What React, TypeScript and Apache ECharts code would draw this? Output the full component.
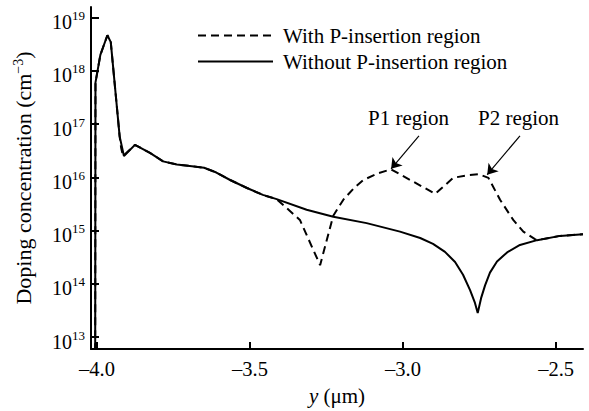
import React, { useEffect, useRef } from "react";
import * as echarts from "echarts";

// Without P-insertion region (solid): y in µm, log10 of doping concentration (cm^-3)
const solidX = [-4.006, -4.005, -3.989, -3.966, -3.955, -3.926, -3.912, -3.876, -3.827, -3.784, -3.739, -3.690, -3.650, -3.610, -3.565, -3.510, -3.458, -3.413, -3.315, -3.228, -3.119, -3.010, -2.944, -2.902, -2.863, -2.830, -2.804, -2.781, -2.765, -2.756, -2.745, -2.732, -2.716, -2.693, -2.660, -2.618, -2.562, -2.487, -2.412];
const solidLog = [12.0, 17.78, 18.30, 18.67, 18.54, 16.77, 16.40, 16.61, 16.46, 16.30, 16.24, 16.21, 16.18, 16.09, 15.95, 15.80, 15.67, 15.59, 15.39, 15.26, 15.14, 14.98, 14.86, 14.75, 14.60, 14.41, 14.17, 13.88, 13.64, 13.45, 13.73, 13.97, 14.21, 14.42, 14.59, 14.73, 14.82, 14.90, 14.93];

// With P-insertion region (dashed)
const dashX = [-4.006, -4.005, -3.989, -3.966, -3.955, -3.926, -3.921, -3.915, -3.876, -3.827, -3.784, -3.739, -3.690, -3.650, -3.610, -3.565, -3.510, -3.458, -3.413, -3.337, -3.271, -3.228, -3.195, -3.160, -3.130, -3.080, -3.039, -2.895, -2.836, -2.790, -2.752, -2.721, -2.683, -2.640, -2.607, -2.569, -2.562, -2.487, -2.412];
const dashLog = [12.0, 17.78, 18.30, 18.67, 18.54, 16.77, 16.55, 16.40, 16.61, 16.46, 16.30, 16.24, 16.21, 16.18, 16.09, 15.95, 15.80, 15.67, 15.59, 15.20, 14.35, 15.28, 15.58, 15.80, 15.95, 16.08, 16.15, 15.69, 15.99, 16.04, 16.06, 15.99, 15.58, 15.20, 14.98, 14.84, 14.82, 14.90, 14.93];

const xTicks = [-4.0, -3.5, -3.0, -2.5];
const yTicks = [13, 14, 15, 16, 17, 18, 19];
const seriesNames = ["With P-insertion region", "Without P-insertion region"];
const annotLabels = ["P1 region", "P2 region"];
const arrowFrom = [[-2.948, 16.78], [-2.618, 16.78]];
const arrowTo = [[-3.039, 16.16], [-2.725, 16.05]];

const font = "'Liberation Serif', 'Times New Roman', serif";

export default function App() {
  const ref = useRef<HTMLDivElement>(null);
  useEffect(() => {
    document.body.style.margin = "0";
    const chart = echarts.init(ref.current!, null, { renderer: "svg" });
    const solidData = solidX.map((x, i) => [x, solidLog[i]]);
    const dashData = dashX.map((x, i) => [x, dashLog[i]]);
    chart.setOption({
      animation: false,
      textStyle: { fontFamily: font, color: "#000" },
      grid: { left: 91, top: 7, right: 6, bottom: 62 },
      legend: {
        orient: "vertical",
        left: 197,
        top: 25,
        padding: 0,
        itemWidth: 75,
        itemHeight: 14,
        itemGap: 5,
        data: [seriesNames[0], seriesNames[1]],
        itemStyle: { opacity: 0 },
        textStyle: { fontFamily: font, fontSize: 21, color: "#000", padding: [0, 0, 0, 5] },
      },
      xAxis: {
        type: "value",
        min: -4.0196,
        max: -2.412,
        name: "{i|y} (μm)",
        nameLocation: "middle",
        nameGap: 36,
        nameTextStyle: {
          color: "#000",
          fontSize: 21,
          fontFamily: font,
          rich: { i: { fontStyle: "italic", fontSize: 21, fontFamily: font, color: "#000" } },
        },
        axisLine: { lineStyle: { color: "#000", width: 2 } },
        axisTick: { inside: true, length: 7, customValues: xTicks, lineStyle: { color: "#000", width: 2 } },
        axisLabel: {
          customValues: xTicks,
          formatter: (v: number) => v.toFixed(1).replace("-", "–"),
          color: "#000",
          fontSize: 20.5,
          fontFamily: font,
          margin: 9,
        },
        splitLine: { show: false },
      },
      yAxis: {
        type: "value",
        min: 12.775,
        max: 19.2,
        name: "Doping concentration (cm{s|−3})",
        nameLocation: "middle",
        nameGap: 56,
        nameTextStyle: {
          color: "#000",
          fontSize: 22,
          fontFamily: font,
          rich: { s: { fontSize: 14, fontFamily: font, color: "#000", padding: [0, 0, 10, 0] } },
        },
        axisLine: { lineStyle: { color: "#000", width: 2 } },
        axisTick: { inside: true, length: 8, customValues: yTicks, lineStyle: { color: "#000", width: 2 } },
        axisLabel: {
          customValues: yTicks,
          formatter: (v: number) => `{b|10}{s|${v}}`,
          margin: 6,
          padding: [7, 0, 0, 0],
          rich: {
            b: { fontSize: 20, fontFamily: font, color: "#000", verticalAlign: "bottom", lineHeight: 22 },
            s: { fontSize: 13, fontFamily: font, color: "#000", verticalAlign: "bottom", lineHeight: 13, padding: [0, 0, 10, 0] },
          },
        },
        splitLine: { show: false },
      },
      series: [
        {
          name: seriesNames[1],
          type: "line",
          data: solidData,
          symbol: "none",
          lineStyle: { color: "#000", width: 2 },
          itemStyle: { color: "#000" },
        },
        {
          name: seriesNames[0],
          type: "line",
          data: dashData,
          symbol: "none",
          lineStyle: { color: "#000", width: 2, type: [8, 5] },
          itemStyle: { color: "#000" },
          markLine: {
            silent: true,
            symbol: ["none", "arrow"],
            symbolSize: 10,
            label: { show: false },
            lineStyle: { type: "solid", color: "#000", width: 1.2 },
            data: arrowFrom.map((f, i) => [{ coord: f }, { coord: arrowTo[i] }]),
          },
        },
      ],
      graphic: [
        { type: "text", left: 368, top: 107, style: { text: annotLabels[0], font: `21px ${font}`, fill: "#000" } },
        { type: "text", left: 478, top: 107, style: { text: annotLabels[1], font: `21px ${font}`, fill: "#000" } },
      ],
    });
    return () => chart.dispose();
  }, []);
  return <div ref={ref} style={{ width: 589, height: 411 }} />;
}
